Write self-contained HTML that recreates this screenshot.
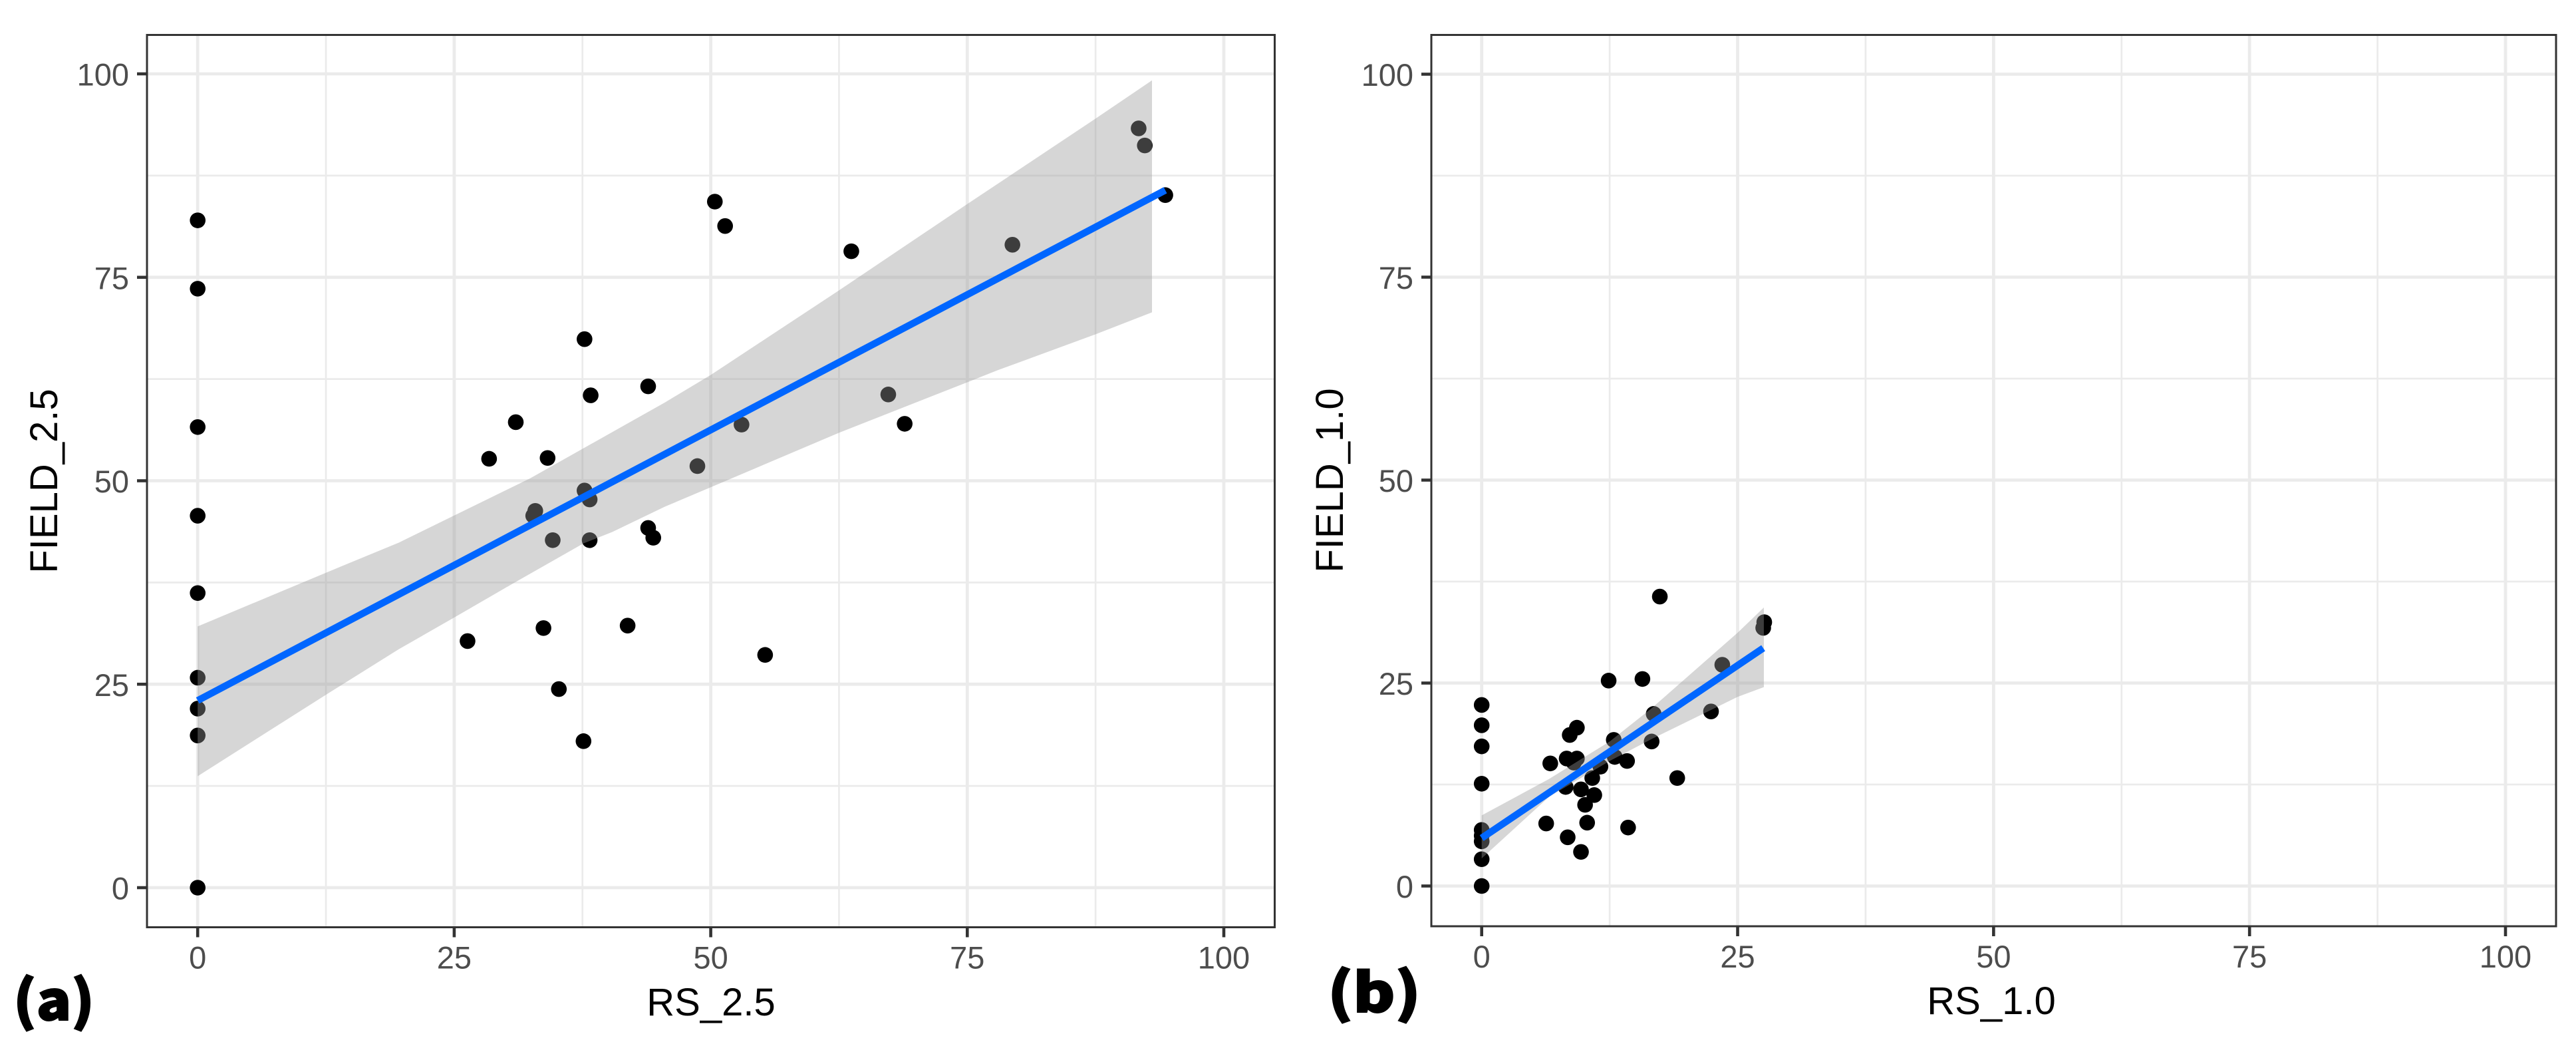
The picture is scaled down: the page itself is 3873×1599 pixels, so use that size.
<!DOCTYPE html>
<html>
<head>
<meta charset="utf-8">
<title>FIELD vs RS scatter plots</title>
<style>
html,body{margin:0;padding:0;background:#fff;width:3873px;height:1599px;overflow:hidden}
svg{display:block}
text{font-family:"Liberation Sans",Arial,sans-serif}
.tick{font-size:47px;fill:#4d4d4d}
.title{font-size:58px;fill:#000}
.tag{font-family:"Noto Sans CJK JP","Liberation Sans",sans-serif;font-weight:900;font-size:81px;fill:#000;stroke:#000;stroke-width:2}
</style>
</head>
<body>
<svg id="chart" xmlns="http://www.w3.org/2000/svg" width="3873" height="1599" viewBox="0 0 3873 1599">
<rect x="0" y="0" width="3873" height="1599" fill="#fff"/>
</svg>
<script>
// Shared axis data
const majorTicks = [0, 25, 50, 75, 100];
const minorTicks = [12.5, 37.5, 62.5, 87.5];

// Panel (a): RS_2.5 vs FIELD_2.5
const aPointsX = [0,0,0,0,0,0,0,0,0,37.7,43.9,38.3,31.0,28.4,34.1,37.7,38.2,32.9,32.7,43.9,44.4,34.6,38.2,26.3,33.7,41.9,35.2,37.6,91.7,92.3,94.3,50.4,51.4,63.7,79.4,67.3,68.9,53.0,48.7,55.3];
const aPointsY = [82.0,73.6,56.6,45.7,36.2,25.8,22.0,18.7,0,67.4,61.6,60.5,57.2,52.7,52.8,48.8,47.7,46.3,45.7,44.2,43.0,42.7,42.7,30.3,31.9,32.2,24.4,18.0,93.3,91.2,85.1,84.3,81.3,78.2,79.0,60.6,57.0,56.9,51.8,28.6];
const aLineX = [0, 94.3];
const aLineY = [23.0, 85.7];
const aBandUpperX = [0,12.5,19.6,32.4,45.5,50,62.5,75,87.5,93];
const aBandUpperY = [32.1,38.7,42.4,50.3,59.6,63,73.4,84.0,94.5,99.2];
const aBandLowerX = [0,12.5,19.6,25,30.9,37.6,40.4,45.5,50,62.5,75,78,87.5,93];
const aBandLowerY = [13.7,23.7,29.3,33.2,37.5,42.3,43.7,46.8,49.2,55.9,62.1,63.6,68,70.7];

// Panel (b): RS_1.0 vs FIELD_1.0
const bPointsX = [0,0,0,0,0,0,0,0,0,17.4,27.6,27.5,23.5,12.4,15.7,22.4,16.8,9.3,8.6,12.9,16.6,8.3,9.3,9.0,6.7,13.0,14.2,11.6,10.8,19.1,8.2,9.7,11.0,10.1,10.3,6.3,14.3,8.4,9.7];
const bPointsY = [22.3,19.8,17.2,12.6,6.9,6.2,5.5,3.3,0,35.65,32.5,31.8,27.25,25.3,25.5,21.5,21.2,19.5,18.6,18.0,17.8,15.7,15.7,15.2,15.1,15.9,15.4,14.7,13.3,13.3,12.2,11.9,11.2,10.0,7.8,7.7,7.2,6.0,4.2];
const bLineX = [0, 27.5];
const bLineY = [5.9, 29.3];
const bBandUpperX = [0,6.6,12.5,16.6,25,27.56];
const bBandUpperY = [8.7,13.2,17.8,21.9,31.2,34.3];
const bBandLowerX = [0,6.6,12.5,16.6,25,27.56];
const bBandLowerY = [3.4,11,15.4,18.1,23.3,24.5];

const svg = document.getElementById('chart');
const NS = 'http://www.w3.org/2000/svg';

function make(tag, attrs, parent, txt) {
  const el = document.createElementNS(NS, tag);
  for (const k in attrs) el.setAttribute(k, attrs[k]);
  if (txt !== undefined) el.textContent = txt;
  parent.appendChild(el);
  return el;
}

function drawPanel(p) {
  const sx = v => p.x0 + (p.x100 - p.x0) * v / 100;
  const sy = v => p.y0 + (p.y100 - p.y0) * v / 100;

  const g = make('g', {}, svg);
  
  

  // Minor then major gridlines
  minorTicks.forEach(v => {
    const vl = make('line', {x1: sx(v), x2: sx(v), y1: p.top, y2: p.bottom, stroke: '#ebebeb', 'stroke-width': 2.7}, g);
    
    
    const hl = make('line', {x1: p.left, x2: p.right, y1: sy(v), y2: sy(v), stroke: '#ebebeb', 'stroke-width': 2.7}, g);
    
    
  });
  majorTicks.forEach(v => {
    const vl = make('line', {x1: sx(v), x2: sx(v), y1: p.top, y2: p.bottom, stroke: '#ebebeb', 'stroke-width': 4.8}, g);
    
    
    const hl = make('line', {x1: p.left, x2: p.right, y1: sy(v), y2: sy(v), stroke: '#ebebeb', 'stroke-width': 4.8}, g);
    
    
  });

  // Points
  p.px.forEach((v, i) => {
    const c = make('circle', {cx: sx(v), cy: sy(p.py[i]), r: 11.8, fill: '#000'}, g);
    
    
  });

  // Confidence band
  const upper = p.ux.map((v, i) => sx(v) + ',' + sy(p.uy[i]));
  const lower = p.lx.map((v, i) => sx(v) + ',' + sy(p.ly[i])).reverse();
  const band = make('polygon', {points: upper.concat(lower).join(' '), fill: '#999999', 'fill-opacity': 0.4}, g);
  
  

  // Regression line
  const fit = make('polyline', {points: p.fx.map((v, i) => sx(v) + ',' + sy(p.fy[i])).join(' '), fill: 'none', stroke: '#0066ff', 'stroke-width': 10.5}, g);
  
  

  // Border
  const border = make('rect', {x: p.left, y: p.top, width: p.right - p.left, height: p.bottom - p.top, fill: 'none', stroke: '#333', 'stroke-width': 3}, g);
  
  

  // Ticks and labels
  majorTicks.forEach(v => {
    const xt = make('line', {x1: sx(v), x2: sx(v), y1: p.bottom, y2: p.bottom + 15, stroke: '#333', 'stroke-width': 4.6}, g);
    
    
    const yt = make('line', {x1: p.left - 15, x2: p.left, y1: sy(v), y2: sy(v), stroke: '#333', 'stroke-width': 4.6}, g);
    
    
    const xl = make('text', {class: 'tick', x: sx(v), y: p.bottom + 62, 'text-anchor': 'middle'}, g, String(v));
    
    
    const yl = make('text', {class: 'tick', x: p.left - 27, y: sy(v) + 17.5, 'text-anchor': 'end'}, g, String(v));
    
    
  });

  // Axis titles
  const xTitle = make('text', {class: 'title', x: p.xTitleX, y: p.xTitleY, 'text-anchor': 'middle'}, g, p.xTitle);
  
  
  const yTitle = make('text', {class: 'title', x: 0, y: 0, 'text-anchor': 'middle', transform: 'translate(' + p.yTitleX + ',' + p.yTitleY + ') rotate(-90)'}, g, p.yTitle);
  
  

  // Panel tag
  const tag = make('text', {class: 'tag', x: p.tagX, y: p.tagY, textLength: p.tagW, lengthAdjust: 'spacingAndGlyphs'}, g, p.tag);
  
  
}

drawPanel({id: 'a', left: 221, right: 1916.5, top: 52.5, bottom: 1393.5,
  x0: 297.2, x100: 1840, y0: 1334, y100: 111,
  px: aPointsX, py: aPointsY, fx: aLineX, fy: aLineY,
  ux: aBandUpperX, uy: aBandUpperY, lx: aBandLowerX, ly: aBandLowerY,
  xTitle: 'RS_2.5', yTitle: 'FIELD_2.5', xTitleX: 1069, xTitleY: 1526, yTitleX: 86, yTitleY: 723,
  tag: '(a)', tagX: 20, tagY: 1533, tagW: 122});

drawPanel({id: 'b', left: 2152, right: 3843, top: 52.5, bottom: 1392,
  x0: 2227.7, x100: 3767, y0: 1331.5, y100: 111.5,
  px: bPointsX, py: bPointsY, fx: bLineX, fy: bLineY,
  ux: bBandUpperX, uy: bBandUpperY, lx: bBandLowerX, ly: bBandLowerY,
  xTitle: 'RS_1.0', yTitle: 'FIELD_1.0', xTitleX: 2994, xTitleY: 1524, yTitleX: 2019, yTitleY: 722,
  tag: '(b)', tagX: 1996, tagY: 1521, tagW: 140});
</script>
</body>
</html>
